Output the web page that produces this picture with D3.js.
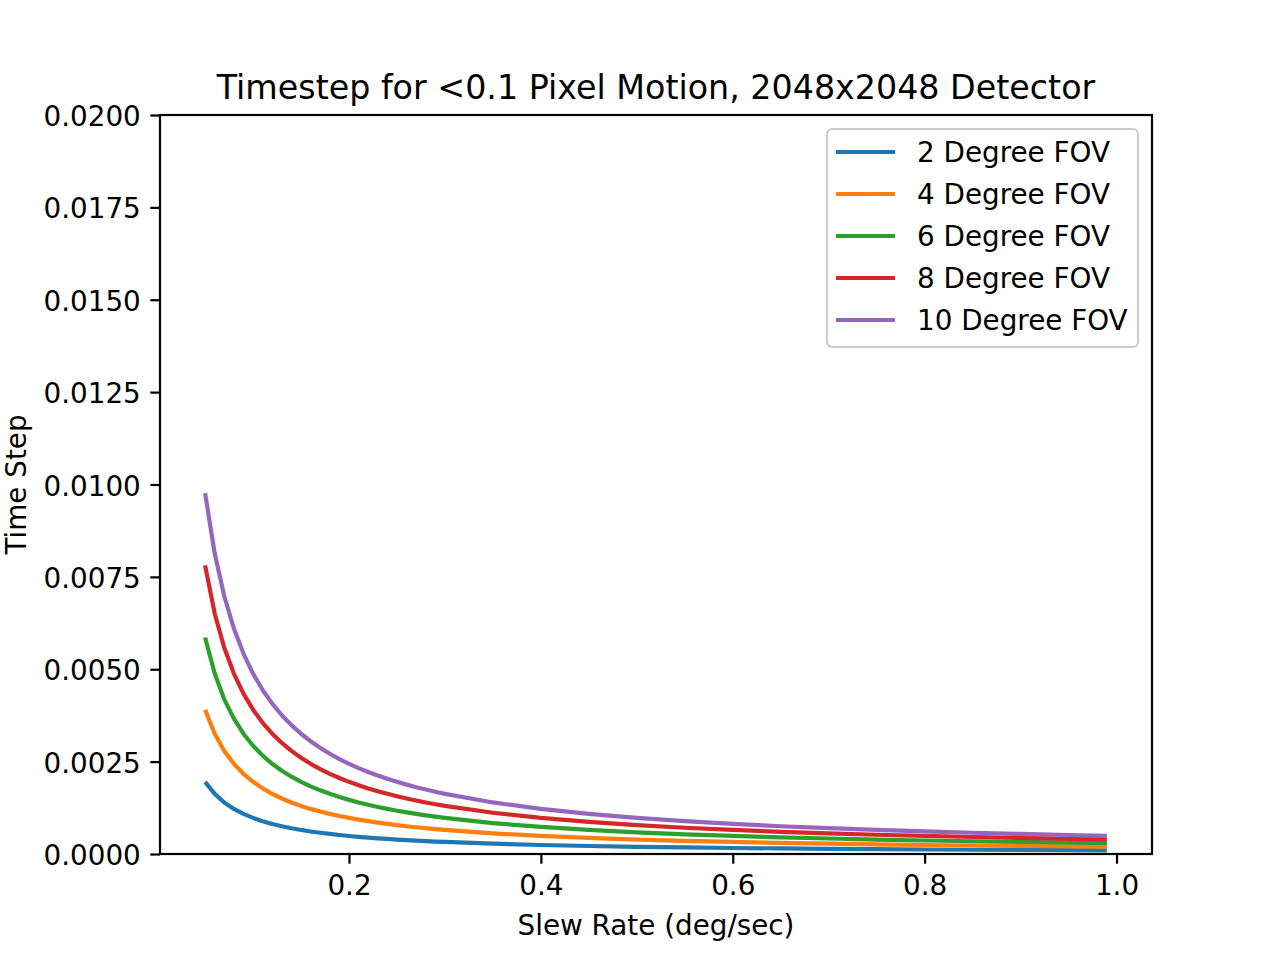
<!DOCTYPE html>
<html>
<head>
<meta charset="utf-8">
<script src="https://cdn.jsdelivr.net/npm/d3@7"></script>
<style>
  html, body { margin: 0; padding: 0; background: #fff; }
  svg { display: block; font-family: "DejaVu Sans", sans-serif; }
</style>
</head>
<body>
<svg id="chart" width="1280" height="960"></svg>
<script>
// slew rate (deg/sec)
var slewRate = [0.05, 0.06, 0.07, 0.08, 0.09, 0.10, 0.11, 0.12, 0.13, 0.14,
    0.15, 0.16, 0.17, 0.18, 0.19, 0.20, 0.21, 0.22, 0.23, 0.24,
    0.25, 0.26, 0.27, 0.28, 0.29, 0.30, 0.35, 0.40, 0.45, 0.50,
    0.55, 0.60, 0.65, 0.70, 0.75, 0.80, 0.85, 0.90, 0.95, 0.99];

var fov2 = [0.001953, 0.001628, 0.001395, 0.001221, 0.001085, 0.000977, 0.000888, 0.000814, 0.000751, 0.000698,
    0.000651, 0.000610, 0.000574, 0.000543, 0.000514, 0.000488, 0.000465, 0.000444, 0.000425, 0.000407,
    0.000391, 0.000376, 0.000362, 0.000349, 0.000337, 0.000326, 0.000279, 0.000244, 0.000217, 0.000195,
    0.000178, 0.000163, 0.000150, 0.000140, 0.000130, 0.000122, 0.000115, 0.000109, 0.000103, 0.000099];
var fov4 = [0.003906, 0.003255, 0.002790, 0.002441, 0.002170, 0.001953, 0.001776, 0.001628, 0.001502, 0.001395,
    0.001302, 0.001221, 0.001149, 0.001085, 0.001028, 0.000977, 0.000930, 0.000888, 0.000849, 0.000814,
    0.000781, 0.000751, 0.000723, 0.000698, 0.000673, 0.000651, 0.000558, 0.000488, 0.000434, 0.000391,
    0.000355, 0.000326, 0.000300, 0.000279, 0.000260, 0.000244, 0.000230, 0.000217, 0.000206, 0.000197];
var fov6 = [0.005859, 0.004883, 0.004185, 0.003662, 0.003255, 0.002930, 0.002663, 0.002441, 0.002254, 0.002093,
    0.001953, 0.001831, 0.001723, 0.001628, 0.001542, 0.001465, 0.001395, 0.001332, 0.001274, 0.001221,
    0.001172, 0.001127, 0.001085, 0.001046, 0.001010, 0.000977, 0.000837, 0.000732, 0.000651, 0.000586,
    0.000533, 0.000488, 0.000451, 0.000419, 0.000391, 0.000366, 0.000345, 0.000326, 0.000308, 0.000296];
var fov8 = [0.007813, 0.006510, 0.005580, 0.004883, 0.004340, 0.003906, 0.003551, 0.003255, 0.003005, 0.002790,
    0.002604, 0.002441, 0.002298, 0.002170, 0.002056, 0.001953, 0.001860, 0.001776, 0.001698, 0.001628,
    0.001563, 0.001502, 0.001447, 0.001395, 0.001347, 0.001302, 0.001116, 0.000977, 0.000868, 0.000781,
    0.000710, 0.000651, 0.000601, 0.000558, 0.000521, 0.000488, 0.000460, 0.000434, 0.000411, 0.000395];
var fov10 = [0.009766, 0.008138, 0.006976, 0.006104, 0.005425, 0.004883, 0.004439, 0.004069, 0.003756, 0.003488,
    0.003255, 0.003052, 0.002872, 0.002713, 0.002570, 0.002441, 0.002325, 0.002220, 0.002123, 0.002035,
    0.001953, 0.001878, 0.001808, 0.001744, 0.001684, 0.001628, 0.001395, 0.001221, 0.001085, 0.000977,
    0.000888, 0.000814, 0.000751, 0.000698, 0.000651, 0.000610, 0.000575, 0.000543, 0.000514, 0.000493];

var seriesNames = ["2 Degree FOV", "4 Degree FOV", "6 Degree FOV", "8 Degree FOV", "10 Degree FOV"];
var seriesValues = [fov2, fov4, fov6, fov8, fov10];
var seriesColors = ["#1f77b4", "#ff7f0e", "#2ca02c", "#d62728", "#9467bd"];

var xTicks = [0.2, 0.4, 0.6, 0.8, 1.0];
var yTicks = [0, 0.0025, 0.005, 0.0075, 0.01, 0.0125, 0.015, 0.0175, 0.02];

var margin = {left: 160, right: 128, top: 115, bottom: 106},
    W = 1280, H = 960,
    plotW = W - margin.left - margin.right,
    plotH = H - margin.top - margin.bottom;

var svg = d3.select("#chart");

// matplotlib style 5% padding on x
var xPad = (0.99 - 0.05) * 0.05;
var x = d3.scaleLinear().domain([0.05 - xPad, 0.99 + xPad]).range([0, plotW]);
var y = d3.scaleLinear().domain([0, 0.02]).range([plotH, 0]);

var g = svg.append("g").attr("transform", "translate(" + margin.left + "," + margin.top + ")");

var line = d3.line()
    .x(function(d){ return x(d[0]); })
    .y(function(d){ return y(d[1]); });

seriesValues.forEach(function(vals, i){
    g.append("path")
        .datum(slewRate.map(function(r, j){ return [r, vals[j]]; }))
        .attr("d", line)
        .attr("fill", "none")
        .attr("stroke", seriesColors[i])
        .attr("stroke-width", 4.2)
        .attr("stroke-linejoin", "round")
        .attr("stroke-linecap", "butt");
});

var xAxis = g.append("g")
    .attr("transform", "translate(0," + plotH + ")")
    .call(d3.axisBottom(x).tickValues(xTicks).tickSize(9.7).tickPadding(12)
        .tickFormat(d3.format(".1f")));
var yAxis = g.append("g")
    .call(d3.axisLeft(y).tickValues(yTicks).tickSize(9.7).tickPadding(9.5)
        .tickFormat(d3.format(".4f")));
yAxis.selectAll(".tick text").attr("dy", "0.38em");

[xAxis, yAxis].forEach(function(a){
    a.select(".domain").remove();
    a.selectAll(".tick line").attr("stroke", "#000").attr("stroke-width", 2.2);
    a.selectAll(".tick text")
        .attr("fill", "#000")
        .style("font-size", "27.8px")
        .style("font-family", "'DejaVu Sans', sans-serif");
});

// frame
g.append("rect")
    .attr("width", plotW).attr("height", plotH)
    .attr("fill", "none").attr("stroke", "#000").attr("stroke-width", 2.2);

svg.append("text")
    .attr("x", margin.left + plotW / 2).attr("y", 99)
    .attr("text-anchor", "middle")
    .style("font-size", "33.3px")
    .text("Timestep for <0.1 Pixel Motion, 2048x2048 Detector");

svg.append("text")
    .attr("x", margin.left + plotW / 2).attr("y", 935)
    .attr("text-anchor", "middle")
    .style("font-size", "27.8px")
    .text("Slew Rate (deg/sec)");

svg.append("text")
    .attr("transform", "translate(26," + (margin.top + plotH / 2) + ") rotate(-90)")
    .attr("text-anchor", "middle")
    .style("font-size", "27.8px")
    .text("Time Step");

// legend
var leg = svg.append("g").attr("transform", "translate(827,129)");
leg.append("rect")
    .attr("width", 311).attr("height", 218)
    .attr("rx", 5).attr("ry", 5)
    .attr("fill", "#fff").attr("fill-opacity", 0.8)
    .attr("stroke", "#cccccc").attr("stroke-width", 2.2);

seriesNames.forEach(function(name, i){
    var row = leg.append("g").attr("transform", "translate(0," + (23 + i * 42) + ")");
    row.append("line")
        .attr("x1", 9).attr("x2", 68)
        .attr("stroke", seriesColors[i]).attr("stroke-width", 4.2);
    row.append("text")
        .attr("x", 90).attr("y", 10)
        .style("font-size", "27.8px")
        .text(name);
});
</script>
</body>
</html>
